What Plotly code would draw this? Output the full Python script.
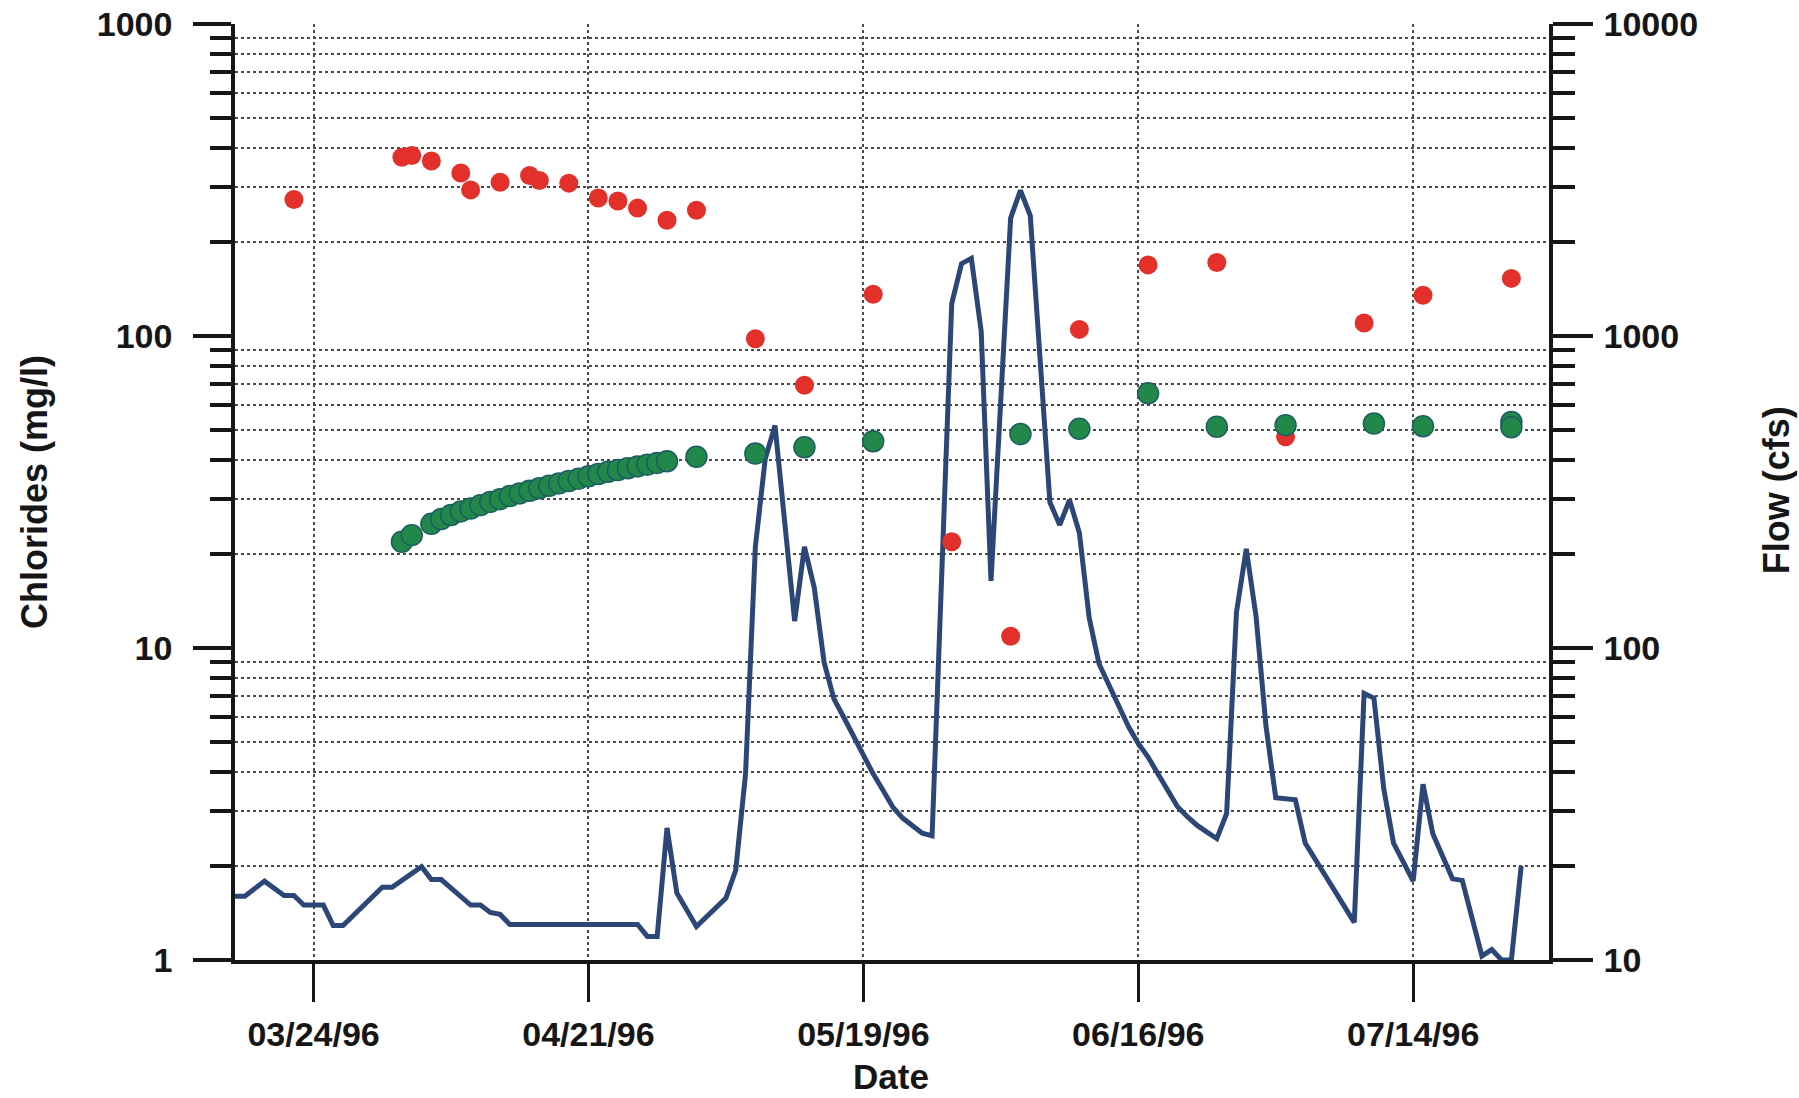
import plotly.graph_objects as go

# ---------------- data ----------------
flow_dates = [
    "1996-03-16", "1996-03-17", "1996-03-19", "1996-03-21", "1996-03-22", "1996-03-23",
    "1996-03-25", "1996-03-26", "1996-03-27", "1996-03-31", "1996-04-01", "1996-04-04",
    "1996-04-05", "1996-04-06", "1996-04-09", "1996-04-10", "1996-04-11", "1996-04-12",
    "1996-04-13", "1996-04-26", "1996-04-27", "1996-04-28", "1996-04-29", "1996-04-30",
    "1996-05-02", "1996-05-05", "1996-05-06", "1996-05-07", "1996-05-08", "1996-05-09",
    "1996-05-10", "1996-05-11", "1996-05-12", "1996-05-13", "1996-05-14", "1996-05-15",
    "1996-05-16", "1996-05-17", "1996-05-18", "1996-05-19", "1996-05-20", "1996-05-21",
    "1996-05-22", "1996-05-23", "1996-05-24", "1996-05-25", "1996-05-26", "1996-05-27",
    "1996-05-28", "1996-05-29", "1996-05-30", "1996-05-31", "1996-06-01", "1996-06-03",
    "1996-06-04", "1996-06-05", "1996-06-07", "1996-06-08", "1996-06-09", "1996-06-10",
    "1996-06-11", "1996-06-12", "1996-06-14", "1996-06-15", "1996-06-16", "1996-06-17",
    "1996-06-18", "1996-06-19", "1996-06-20", "1996-06-21", "1996-06-22", "1996-06-23",
    "1996-06-24", "1996-06-25", "1996-06-26", "1996-06-27", "1996-06-28", "1996-06-29",
    "1996-06-30", "1996-07-02", "1996-07-03", "1996-07-08", "1996-07-09", "1996-07-10",
    "1996-07-11", "1996-07-12", "1996-07-14", "1996-07-15", "1996-07-16", "1996-07-18",
    "1996-07-19", "1996-07-21", "1996-07-22", "1996-07-23", "1996-07-24", "1996-07-25",
]
flow_cfs = [
    16.0, 16.0, 17.9, 16.1, 16.1, 15.0,
    15.0, 12.9, 12.9, 17.1, 17.1, 19.9,
    18.1, 18.1, 15.0, 15.0, 14.2, 14.0,
    13.0, 13.0, 11.9, 11.9, 26.5, 16.4,
    12.8, 15.8, 19.4, 39.5, 211, 403,
    517, 250, 122, 211, 156, 90,
    68.7, 60, 52, 45, 39.5, 35,
    30.9, 28.5, 26.8, 25.5, 25.0, 180,
    1270, 1706, 1774, 1036, 164, 2387,
    2931, 2431, 293, 248, 298, 234,
    125, 89, 66, 56, 49.4, 44.7,
    39.5, 35, 31, 28.8, 27, 25.7,
    24.5, 29.5, 130, 208, 126, 56.5,
    33.1, 32.6, 23.7, 13.2, 71.5, 69.1,
    35.4, 23.7, 17.9, 36.6, 25.4, 18.2,
    18.0, 10.3, 10.8, 10.0, 10.0, 20.0,
]

red_dates = [
    "1996-03-22", "1996-04-02", "1996-04-03", "1996-04-05", "1996-04-08", "1996-04-09",
    "1996-04-12", "1996-04-15", "1996-04-16", "1996-04-19", "1996-04-22", "1996-04-24",
    "1996-04-26", "1996-04-29", "1996-05-02", "1996-05-08", "1996-05-13", "1996-05-20",
    "1996-05-28", "1996-06-03", "1996-06-10", "1996-06-17", "1996-06-24", "1996-07-01",
    "1996-07-09", "1996-07-15", "1996-07-24",
]
red_mgl = [
    274, 374, 379, 364, 333, 294,
    311, 327, 315, 309, 277, 271,
    257, 235, 253, 98, 69.5, 136,
    21.9, 10.9, 105, 169, 172, 47.5,
    110, 135, 153,
]

green_dates = [
    "1996-04-02", "1996-04-03", "1996-04-05", "1996-04-06", "1996-04-07", "1996-04-08",
    "1996-04-09", "1996-04-10", "1996-04-11", "1996-04-12", "1996-04-13", "1996-04-14",
    "1996-04-15", "1996-04-16", "1996-04-17", "1996-04-18", "1996-04-19", "1996-04-20",
    "1996-04-21", "1996-04-22", "1996-04-23", "1996-04-24", "1996-04-25", "1996-04-26",
    "1996-04-27", "1996-04-28", "1996-04-29", "1996-05-02", "1996-05-08", "1996-05-13",
    "1996-05-20", "1996-06-04", "1996-06-10", "1996-06-17", "1996-06-24", "1996-07-01",
    "1996-07-10", "1996-07-15", "1996-07-24", "1996-07-24",
]
green_mgl = [
    21.9, 23.0, 25.0, 25.9, 26.7, 27.4,
    28.0, 28.7, 29.4, 30.0, 30.7, 31.3,
    31.9, 32.5, 33.1, 33.7, 34.3, 34.9,
    35.5, 36.1, 36.7, 37.2, 37.7, 38.2,
    38.7, 39.2, 39.7, 41.0, 42.0, 44.0,
    46.0, 48.5, 50.4, 65.5, 51.2, 51.8,
    52.4, 51.4, 53.0, 51.0,
]

x_tick_dates = ["1996-03-24", "1996-04-21", "1996-05-19", "1996-06-16", "1996-07-14"]
x_tick_text = ["03/24/96", "04/21/96", "05/19/96", "06/16/96", "07/14/96"]
chl_ticks = [1, 10, 100, 1000]
chl_tick_text = ["1", "10", "100", "1000"]
flow_ticks = [10, 100, 1000, 10000]
flow_tick_text = ["10", "100", "1000", "10000"]
x_range = ["1996-03-16 00:00", "1996-07-27 20:00"]

chl_minor = [m * 10 ** e for e in range(0, 3) for m in range(2, 10)]
flow_minor = [m * 10 ** e for e in range(1, 4) for m in range(2, 10)]

# ---------------- styling ----------------
FONT = "Liberation Sans, Arial, Helvetica, sans-serif"
INK = "#161616"
GRID = "#4a4a4a"

fig = go.Figure()

fig.add_trace(go.Scatter(
    x=flow_dates, y=flow_cfs, mode="lines", name="Flow (cfs)",
    line=dict(color="#2b4677", width=5), yaxis="y", showlegend=False,
))
fig.add_trace(go.Scatter(
    x=red_dates, y=red_mgl, mode="markers", name="Chlorides (red)",
    marker=dict(color="#e3302b", size=19, line=dict(width=0)),
    yaxis="y2", showlegend=False, cliponaxis=False,
))
fig.add_trace(go.Scatter(
    x=green_dates, y=green_mgl, mode="markers", name="Chlorides (green)",
    marker=dict(color="#22884a", size=21, line=dict(color="#1c5e62", width=1.5)),
    yaxis="y2", showlegend=False, cliponaxis=False,
))

tickfont = dict(family=FONT, size=34, color=INK, weight="bold")

fig.update_layout(
    width=1799, height=1098,
    margin=dict(l=235, r=250, t=24, b=138, autoexpand=False),
    paper_bgcolor="white", plot_bgcolor="white",
    font=dict(family=FONT, color=INK),
    xaxis=dict(
        type="date", range=x_range,
        tickmode="array", tickvals=x_tick_dates, ticktext=x_tick_text,
        ticks="outside", ticklen=38, tickwidth=3, tickcolor=INK,
        tickfont=tickfont, ticklabelstandoff=3,
        showline=True, linewidth=3.5, linecolor=INK,
        showgrid=True, gridcolor=GRID, gridwidth=1.6, griddash="dot",
        zeroline=False,
    ),
    yaxis=dict(  # flow, right side
        type="log", range=[1, 4], side="right", anchor="x",
        tickmode="array", tickvals=flow_ticks, ticktext=flow_tick_text,
        ticks="outside", ticklen=40, tickwidth=4, tickcolor=INK,
        tickfont=tickfont, ticklabelstandoff=4,
        showline=True, linewidth=3.5, linecolor=INK,
        showgrid=False, zeroline=False,
        minor=dict(tickmode="array", tickvals=flow_minor, ticks="outside",
                   ticklen=22, tickwidth=4, tickcolor=INK,
                   showgrid=True, gridcolor=GRID, gridwidth=1.6, griddash="dot"),
    ),
    yaxis2=dict(  # chlorides, left side
        type="log", range=[0, 3], side="left", overlaying="y", anchor="x",
        tickmode="array", tickvals=chl_ticks, ticktext=chl_tick_text,
        ticks="outside", ticklen=38, tickwidth=4, tickcolor=INK,
        tickfont=tickfont, ticklabelstandoff=14,
        showline=True, linewidth=3.5, linecolor=INK,
        showgrid=False, zeroline=False,
        minor=dict(tickmode="array", tickvals=chl_minor, ticks="outside",
                   ticklen=21, tickwidth=4, tickcolor=INK, showgrid=False),
    ),
    annotations=[
        dict(text="Chlorides (mg/l)", xref="paper", yref="paper", x=-0.153, y=0.5,
             xanchor="center", yanchor="middle", textangle=-90, showarrow=False,
             font=dict(family=FONT, size=36, color=INK, weight="bold")),
        dict(text="Flow (cfs)", xref="paper", yref="paper", x=1.1728, y=0.502,
             xanchor="center", yanchor="middle", textangle=-90, showarrow=False,
             font=dict(family=FONT, size=36, color=INK, weight="bold")),
        dict(text="Date", xref="paper", yref="paper", x=0.4995, y=-0.1463,
             xanchor="center", yanchor="bottom", showarrow=False, borderpad=0,
             font=dict(family=FONT, size=35, color=INK, weight="bold")),
    ],
)

fig.write_html("out.html", config={"displayModeBar": False},
               post_script="document.body.style.margin='0';document.body.style.overflow='hidden';")
